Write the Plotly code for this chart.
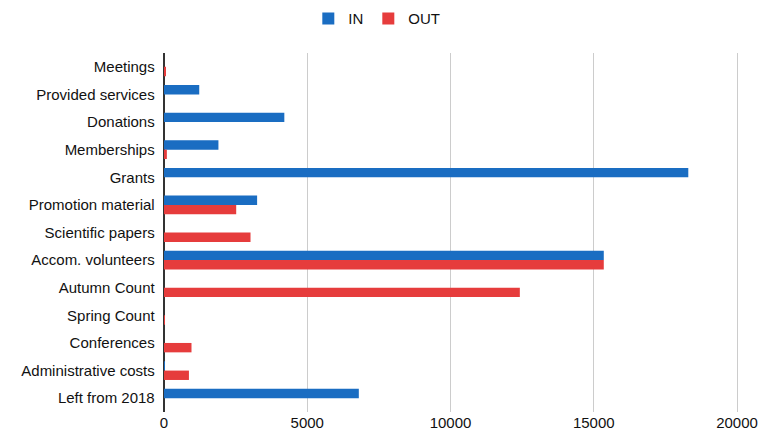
import plotly.graph_objects as go

categories = ["Meetings", "Provided services", "Donations", "Memberships", "Grants",
              "Promotion material", "Scientific papers", "Accom. volunteers", "Autumn Count",
              "Spring Count", "Conferences", "Administrative costs", "Left from 2018"]
in_values = [0, 1230, 4200, 1900, 18300, 3250, 0, 15350, 0, 0, 0, 20, 6800]
out_values = [50, 0, 0, 100, 0, 2520, 3020, 15350, 12420, 30, 960, 870, 0]
x_ticks = [0, 5000, 10000, 15000, 20000]
x_tick_labels = ["0", "5000", "10000", "15000", "20000"]

BLUE = "#1a6dc2"
RED = "#e63c3c"
FONT = "Liberation Sans, Arial, sans-serif"

fig = go.Figure()
fig.add_trace(go.Bar(y=categories, x=in_values, name="IN", orientation="h",
                     marker=dict(color=BLUE, line=dict(width=0))))
fig.add_trace(go.Bar(y=categories, x=out_values, name="OUT", orientation="h",
                     marker=dict(color=RED, line=dict(width=0))))

fig.update_layout(
    width=769, height=442,
    margin=dict(l=164, r=0, t=53, b=30),
    barmode="group", bargap=0.32, bargroupgap=0.0,
    plot_bgcolor="white", paper_bgcolor="white",
    font=dict(family=FONT, size=15, color="#111111"),
    legend=dict(orientation="h", x=0.49, xanchor="center", xref="container",
                y=0.995, yanchor="top", yref="container",
                font=dict(size=15, color="#111111"),
                itemsizing="constant", traceorder="normal", itemwidth=30),
    xaxis=dict(range=[0, 21117], tickvals=x_ticks, ticktext=x_tick_labels,
               showgrid=True, gridcolor="#cccccc",
               gridwidth=1, zeroline=True, zerolinecolor="#333333", zerolinewidth=2,
               showline=False, ticks="", tickfont=dict(size=15, color="#111111")),
    yaxis=dict(categoryorder="array", categoryarray=categories, autorange="reversed",
               showgrid=False, zeroline=False, ticks="", ticksuffix="  ",
               tickfont=dict(size=15, color="#111111")),
)

fig.write_html("out.html")
